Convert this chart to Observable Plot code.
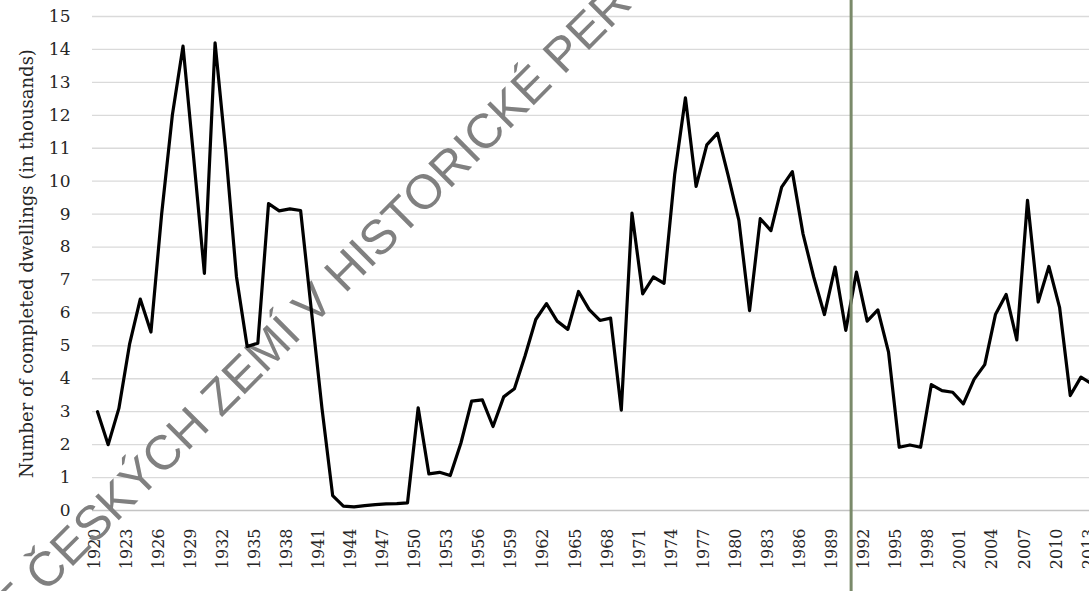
<!DOCTYPE html>
<html>
<head>
<meta charset="utf-8">
<script src="https://cdn.jsdelivr.net/npm/d3@7"></script>
<script src="https://cdn.jsdelivr.net/npm/@observablehq/plot@0.6"></script>
<style>
  html, body { margin: 0; padding: 0; background: white; overflow: hidden; }
  #chart svg { display: block; }
</style>
</head>
<body>
<div id="chart"></div>
<script>
const years = d3.range(1920, 2014);
const dwellings = [
  3.0, 2.0, 3.1, 5.05, 6.42, 5.42, 9.0, 12.0, 14.1, 10.7,
  7.2, 14.2, 10.9, 7.1, 4.98, 5.08, 9.32, 9.1, 9.16, 9.11,
  6.1, 3.1, 0.45, 0.13, 0.11, 0.15, 0.18, 0.2, 0.21, 0.23,
  3.12, 1.11, 1.16, 1.06, 2.05, 3.32, 3.36, 2.55, 3.45, 3.7,
  4.7, 5.8, 6.28, 5.75, 5.5, 6.65, 6.1, 5.77, 5.84, 3.05,
  9.03, 6.58, 7.09, 6.9, 10.22, 12.53, 9.84, 11.1, 11.46, 10.17,
  8.81, 6.07, 8.86, 8.5, 9.82, 10.29, 8.4, 7.09, 5.95, 7.39,
  5.47, 7.24, 5.75, 6.09, 4.81, 1.92, 1.99, 1.92, 3.82, 3.64,
  3.59, 3.24, 3.98, 4.43, 5.95, 6.56, 5.18, 9.42, 6.33, 7.41,
  6.17, 3.49, 4.05, 3.85
];
const yTicks = d3.range(0, 16);
const xTickYears = d3.range(1920, 2014, 3);
const breakYear = [1990.5];
const yTitle = ["Number of completed dwellings (in thousands)"];
const watermark = ["E ČESKÝCH ZEMÍ V HISTORICKÉ PER"];

const table = years.map((yr, i) => ({year: yr, value: dwellings[i]}));

const chart = Plot.plot({
  width: 1089,
  height: 591,
  marginLeft: 97,
  marginRight: 0,
  marginTop: 16,
  marginBottom: 81,
  x: {domain: [1920, 2012.8], axis: null},
  y: {domain: [0, 15], axis: null},
  style: {fontFamily: "DejaVu Serif", fontSize: "16px", background: "white", overflow: "hidden"},
  marks: [
    Plot.ruleY(yTicks.filter(d => d > 0), {stroke: "#dadada", strokeWidth: 1.3, insetLeft: -5}),
    Plot.ruleY([0], {stroke: "#c4c4c4", strokeWidth: 1.6, insetLeft: -5}),
    Plot.axisY({ticks: yTicks, tickSize: 0, tickPadding: 27, tickFormat: d => String(d), fontSize: 17, fill: "#262626", label: null}),
    Plot.text(xTickYears, {x: d => d, text: d => String(d), frameAnchor: "bottom", dy: 18, dx: 2, rotate: -90, textAnchor: "end", fontSize: 16, fill: "#262626"}),
    Plot.text(yTitle, {frameAnchor: "left", dx: -70, rotate: -90, textAnchor: "middle", fontSize: 18, fill: "#262626"}),
    Plot.text(watermark, {frameAnchor: "top-left", dx: 226, dy: 299, rotate: -45, textAnchor: "middle", lineAnchor: "bottom", fontSize: 48.5, fontFamily: "Liberation Sans", fill: "#808080"}),
    Plot.line(table, {x: "year", y: "value", stroke: "black", strokeWidth: 3.2}),
    Plot.ruleX(breakYear, {stroke: "#7a8a6a", strokeWidth: 3, insetTop: -16, insetBottom: -81})
  ]
});
document.getElementById("chart").appendChild(chart);
</script>
</body>
</html>
